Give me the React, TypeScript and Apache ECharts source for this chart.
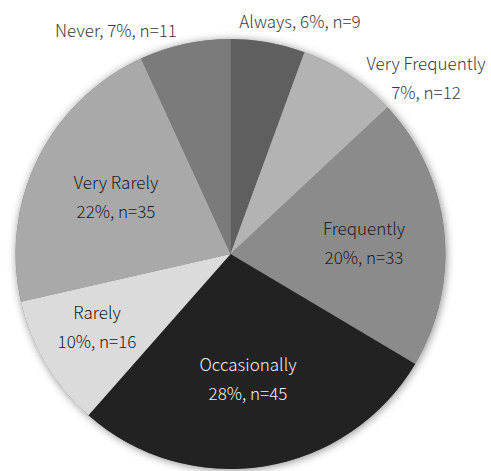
import React, { useEffect, useRef } from "react";
import * as echarts from "echarts";

const categories = ["Always", "Very Frequently", "Frequently", "Occasionally", "Rarely", "Very Rarely", "Never"];
const counts = [9, 12, 33, 45, 16, 35, 11];
const percentLabels = ["6%", "7%", "20%", "28%", "10%", "22%", "7%"];

const sliceColors = ["#5f5f5f", "#b3b3b3", "#8b8b8b", "#222222", "#dbdbdb", "#a9a9a9", "#7b7b7b"];
const labelColors = ["#3a3a3a", "#3a3a3a", "#222222", "#f0f0f0", "#222222", "#222222", "#3a3a3a"];
const singleLine = ["Always", "Never"];
// label centres in pixels (layout only)
const labelPos: [number, number][] = [
  [300, 20],
  [426, 77],
  [364, 242],
  [248, 378],
  [97, 326],
  [116, 196],
  [116, 29],
];

export default function App() {
  const ref = useRef<HTMLDivElement>(null);
  useEffect(() => {
    if (!ref.current) return;
    const chart = echarts.init(ref.current, undefined, { renderer: "svg" });
    const total = counts.reduce((a, b) => a + b, 0);
    const font = "'Noto Sans CJK JP', 'Noto Sans', sans-serif";
    chart.setOption({
      animation: false,
      backgroundColor: "#ffffff",
      series: [
        {
          type: "pie",
          silent: true,
          center: [230.5, 254],
          radius: [0, 215],
          label: { show: false },
          labelLine: { show: false },
          itemStyle: {
            color: "#888888",
            shadowBlur: 8,
            shadowColor: "rgba(0,0,0,0.45)",
            shadowOffsetX: 1,
            shadowOffsetY: 1,
          },
          data: [{ name: "all", value: total }],
          z: 1,
        },
        {
          type: "pie",
          center: [230.5, 254],
          radius: [0, 215],
          startAngle: 90,
          clockwise: true,
          percentPrecision: 0,
          itemStyle: { borderWidth: 0 },
          labelLine: { show: false },
          label: {
            show: true,
            position: "inside",
            fontFamily: font,
            fontSize: 17,
            fontWeight: 300,
            lineHeight: 29,
            align: "center",
            verticalAlign: "middle",
            formatter: (p: any) =>
              singleLine.includes(p.name)
                ? `${p.name}, ${percentLabels[p.dataIndex]}, n=${p.value}`
                : `${p.name}\n${percentLabels[p.dataIndex]}, n=${p.value}`,
          },
          labelLayout: (p: any) => ({
            x: labelPos[p.dataIndex][0],
            y: labelPos[p.dataIndex][1],
            align: "center",
            verticalAlign: "middle",
          }),
          data: categories.map((c, i) => ({
            name: c,
            value: counts[i],
            itemStyle: { color: sliceColors[i] },
            label: { color: labelColors[i] },
          })),
          z: 2,
        },
      ],
    });
    return () => chart.dispose();
  }, []);
  return (
    <div
      ref={ref}
      style={{ position: "fixed", left: 0, top: 0, width: 491, height: 471 }}
    />
  );
}
